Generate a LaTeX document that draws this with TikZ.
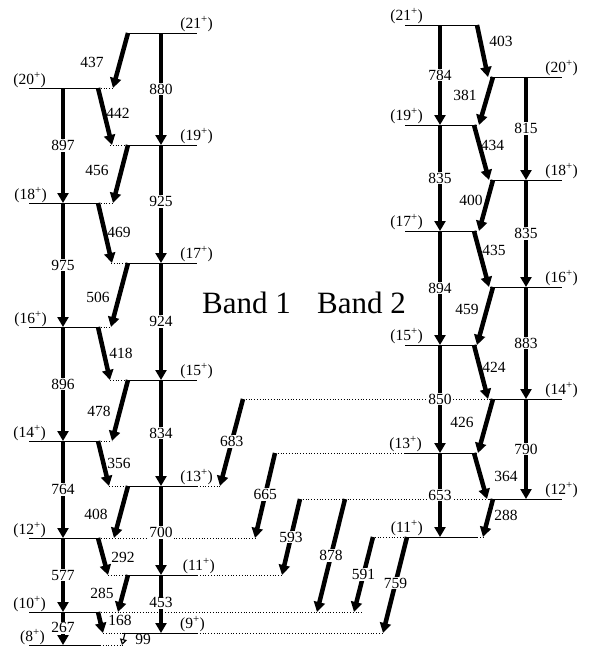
\documentclass[tikz,border=0pt]{standalone}
\usepackage{fontspec}
\setmainfont{Liberation Serif}
\usetikzlibrary{arrows.meta}
\tikzset{
  lvl/.style={line width=0.8pt},
  dotlvl/.style={line width=0.8pt, dotted},
  tr/.style={line width=4.5pt, -{Triangle[width=11pt,length=10pt]}},
  thintr/.style={line width=1.2pt, -{Triangle[open,width=7pt,length=6pt]}},
  lab/.style={font=\fontsize{15.5}{18}\selectfont, inner sep=1pt},
  onlab/.style={lab, fill=white},
  spinlab/.style={font=\fontsize{15.5}{18}\selectfont, inner sep=0pt, anchor=base east},
  bandlab/.style={font=\fontsize{31}{36}\selectfont, inner sep=0pt, anchor=base west},
}
\begin{document}
\begin{tikzpicture}[x=1pt,y=-1pt]
\useasboundingbox (0,0) rectangle (592,646);

% ---------------- Band 1 levels ----------------
\draw[lvl] (128,33) -- (197,33);
\draw[lvl] (29,88) -- (98,88);   \draw[dotlvl] (98,88) -- (113,88);
\draw[dotlvl] (110,145) -- (128,145); \draw[lvl] (128,145) -- (197,145);
\draw[lvl] (29,203) -- (98,203); \draw[dotlvl] (98,203) -- (113,203);
\draw[dotlvl] (111,263) -- (128,263); \draw[lvl] (128,263) -- (197,263);
\draw[lvl] (29,327) -- (98,327); \draw[dotlvl] (98,327) -- (111,327);
\draw[dotlvl] (110,380) -- (128,380); \draw[lvl] (128,380) -- (197,380);
\draw[lvl] (29,441) -- (98,441); \draw[dotlvl] (98,441) -- (112,441);
\draw[dotlvl] (109,486) -- (128,486); \draw[lvl] (128,486) -- (197,486); \draw[dotlvl] (197,486) -- (220,486);
\draw[lvl] (29,538) -- (98,538); \draw[dotlvl] (98,538) -- (255,538);
\draw[dotlvl] (108,575) -- (128,575); \draw[lvl] (128,575) -- (197,575); \draw[dotlvl] (197,575) -- (282,575);
\draw[lvl] (29,612) -- (98,612); \draw[dotlvl] (98,612) -- (362,612);
\draw[dotlvl] (103,633) -- (122,633); \draw[lvl] (122,633) -- (197,633); \draw[dotlvl] (197,633) -- (383,633);
\draw[lvl] (29,645) -- (100,645); \draw[dotlvl] (100,645) -- (124,645);

\node[spinlab] (s21a) at (213,28) {(21\textsuperscript{+})};
\node[spinlab] (s20a) at (46,84) {(20\textsuperscript{+})};
\node[spinlab] (s19a) at (213,140) {(19\textsuperscript{+})};
\node[spinlab] (s18a) at (47,199) {(18\textsuperscript{+})};
\node[spinlab] (s17a) at (213,258) {(17\textsuperscript{+})};
\node[spinlab] (s16a) at (47,323) {(16\textsuperscript{+})};
\node[spinlab] (s15a) at (213,375) {(15\textsuperscript{+})};
\node[spinlab] (s14a) at (46,437) {(14\textsuperscript{+})};
\node[spinlab] (s13a) at (213,481) {(13\textsuperscript{+})};
\node[spinlab] (s12a) at (46,534) {(12\textsuperscript{+})};
\node[spinlab] (s11a) at (215,570) {(11\textsuperscript{+})};
\node[spinlab] (s10a) at (46,608) {(10\textsuperscript{+})};
\node[spinlab] (s9a)  at (205,628) {(9\textsuperscript{+})};
\node[spinlab] (s8a)  at (45,641) {(8\textsuperscript{+})};

% ---------------- Band 2 levels ----------------
\draw[lvl] (405,25) -- (477,25);
\draw[lvl] (490,77) -- (562,77);
\draw[lvl] (405,125) -- (477,125);
\draw[lvl] (490,180) -- (562,180);
\draw[lvl] (405,231) -- (477,231);
\draw[lvl] (490,287) -- (562,287);
\draw[lvl] (405,345) -- (477,345);
\draw[dotlvl] (243,399) -- (490,399); \draw[lvl] (490,399) -- (562,399);
\draw[dotlvl] (275,453) -- (405,453); \draw[lvl] (405,453) -- (477,453);
\draw[dotlvl] (300,499) -- (488,499); \draw[lvl] (488,499) -- (562,499);
\draw[dotlvl] (372,537) -- (405,537); \draw[lvl] (405,537) -- (477,537); \draw[dotlvl] (477,537) -- (483,537);

\node[spinlab] (s21b) at (423,20) {(21\textsuperscript{+})};
\node[spinlab] (s20b) at (578,72) {(20\textsuperscript{+})};
\node[spinlab] (s19b) at (423,120) {(19\textsuperscript{+})};
\node[spinlab] (s18b) at (578,175) {(18\textsuperscript{+})};
\node[spinlab] (s17b) at (423,226) {(17\textsuperscript{+})};
\node[spinlab] (s16b) at (578,282) {(16\textsuperscript{+})};
\node[spinlab] (s15b) at (423,340) {(15\textsuperscript{+})};
\node[spinlab] (s14b) at (578,394) {(14\textsuperscript{+})};
\node[spinlab] (s13b) at (422,448) {(13\textsuperscript{+})};
\node[spinlab] (s12b) at (578,494) {(12\textsuperscript{+})};
\node[spinlab] (s11b) at (423,532) {(11\textsuperscript{+})};

\node[bandlab] (band1) at (202,313) {Band 1};
\node[bandlab] (band2) at (317,313) {Band 2};

% ---------------- column coordinates ----------------
\coordinate (A20) at (63,88);  \coordinate (A18) at (63,203); \coordinate (A16) at (63,327);
\coordinate (A14) at (63,441); \coordinate (A12) at (63,538); \coordinate (A10) at (63,612);
\coordinate (A8) at (63,645);
\coordinate (B21) at (161,33); \coordinate (B19) at (161,145); \coordinate (B17) at (161,263);
\coordinate (B15) at (161,380); \coordinate (B13) at (161,486); \coordinate (B11) at (161,575);
\coordinate (B9) at (161,633);
\coordinate (C21) at (440,25); \coordinate (C19) at (440,125); \coordinate (C17) at (440,231);
\coordinate (C15) at (440,345); \coordinate (C13) at (440,453); \coordinate (C11) at (440,537);
\coordinate (D20) at (526,77); \coordinate (D18) at (526,180); \coordinate (D16) at (526,287);
\coordinate (D14) at (526,399); \coordinate (D12) at (526,499);

% ---------------- stretched (E2) transitions ----------------
\draw[tr] (A20) -- node[onlab] {897} (A18);
\draw[tr] (A18) -- node[onlab] {975} (A16);
\draw[tr] (A16) -- node[onlab] {896} (A14);
\draw[tr] (A14) -- node[onlab] {764} (A12);
\draw[tr] (A12) -- node[onlab] {577} (A10);
\draw[tr] (A10) -- node[onlab, pos=0.48] {267} (A8);
\draw[tr] (B21) -- node[onlab] {880} (B19);
\draw[tr] (B19) -- node[onlab, pos=0.48] {925} (B17);
\draw[tr] (B17) -- node[onlab] {924} (B15);
\draw[tr] (B15) -- node[onlab] {834} (B13);
\draw[tr] (B13) -- node[onlab, pos=0.52] {700} (B11);
\draw[tr] (B11) -- node[onlab, pos=0.48] {453} (B9);
\draw[tr] (C21) -- node[onlab] {784} (C19);
\draw[tr] (C19) -- node[onlab] {835} (C17);
\draw[tr] (C17) -- node[onlab] {894} (C15);
\draw[tr] (C15) -- node[onlab] {850} (C13);
\draw[tr] (C13) -- node[onlab] {653} (C11);
\draw[tr] (D20) -- node[onlab] {815} (D18);
\draw[tr] (D18) -- node[onlab] {835} (D16);
\draw[tr] (D16) -- node[onlab] {883} (D14);
\draw[tr] (D14) -- node[onlab] {790} (D12);

% ---------------- Band 1 in-band diagonal transitions ----------------
\coordinate (p437) at (128,33);  \coordinate (q437) at (113,88);
\coordinate (p442) at (98,88);   \coordinate (q442) at (112,145);
\coordinate (p456) at (128,145); \coordinate (q456) at (113,203);
\coordinate (p469) at (98,203);  \coordinate (q469) at (112,263);
\coordinate (p506) at (128,263); \coordinate (q506) at (111,327);
\coordinate (p418) at (98,327);  \coordinate (q418) at (110,380);
\coordinate (p478) at (128,380); \coordinate (q478) at (112,441);
\coordinate (p356) at (98,441);  \coordinate (q356) at (109,486);
\coordinate (p408) at (128,486); \coordinate (q408) at (114,538);
\coordinate (p292) at (98,538);  \coordinate (q292) at (108,575);
\coordinate (p285) at (128,575); \coordinate (q285) at (118,612);
\coordinate (p168) at (98,612);  \coordinate (q168) at (103,633);
\coordinate (p99) at (125,633);  \coordinate (q99) at (122,645);

\draw[tr] (p437) -- node[lab, xshift=-28.5pt, yshift=-1.5pt] {437} (q437);
\draw[tr] (p442) -- node[lab, xshift=13pt, yshift=3.5pt] {442} (q442);
\draw[tr] (p456) -- node[lab, xshift=-23.5pt, yshift=4pt] {456} (q456);
\draw[tr] (p469) -- node[lab, xshift=14pt, yshift=1pt] {469} (q469);
\draw[tr] (p506) -- node[lab, xshift=-21.5pt, yshift=-2pt] {506} (q506);
\draw[tr] (p418) -- node[lab, xshift=17pt, yshift=0.5pt] {418} (q418);
\draw[tr] (p478) -- node[lab, xshift=-21pt, yshift=-0.5pt] {478} (q478);
\draw[tr] (p356) -- node[lab, xshift=15.5pt, yshift=0.5pt] {356} (q356);
\draw[tr] (p408) -- node[lab, xshift=-25pt, yshift=-2pt] {408} (q408);
\draw[tr] (p292) -- node[lab, xshift=20pt, yshift=-0.5pt] {292} (q292);
\draw[tr] (p285) -- node[lab, xshift=-21pt, yshift=0.5pt] {285} (q285);
\draw[tr] (p168) -- node[lab, xshift=19.5pt, yshift=2.5pt] {168} (q168);
\draw[thintr] (p99) -- (q99);
\node[lab] (l99) at (143,639) {99};

% ---------------- Band 2 in-band diagonal transitions ----------------
\coordinate (p403) at (477,25);  \coordinate (q403) at (488,77);
\coordinate (p381) at (493,77);  \coordinate (q381) at (479,125);
\coordinate (p434) at (474,125); \coordinate (q434) at (489,180);
\coordinate (p400) at (493,180); \coordinate (q400) at (479,231);
\coordinate (p435) at (474,231); \coordinate (q435) at (489,287);
\coordinate (p459) at (493,287); \coordinate (q459) at (477,345);
\coordinate (p424) at (474,345); \coordinate (q424) at (488,399);
\coordinate (p426) at (493,399); \coordinate (q426) at (478,453);
\coordinate (p364) at (474,453); \coordinate (q364) at (487,499);
\coordinate (p288) at (493,499); \coordinate (q288) at (483,537);

\draw[tr] (p403) -- node[lab, xshift=18.5pt, yshift=10pt] {403} (q403);
\draw[tr] (p381) -- node[lab, xshift=-21pt, yshift=6pt] {381} (q381);
\draw[tr] (p434) -- node[lab, xshift=11pt, yshift=7.5pt] {434} (q434);
\draw[tr] (p400) -- node[lab, xshift=-15pt, yshift=5.5pt] {400} (q400);
\draw[tr] (p435) -- node[lab, xshift=12.5pt, yshift=9pt] {435} (q435);
\draw[tr] (p459) -- node[lab, xshift=-18pt, yshift=7pt] {459} (q459);
\draw[tr] (p424) -- node[lab, xshift=13pt, yshift=5pt] {424} (q424);
\draw[tr] (p426) -- node[lab, xshift=-23.5pt, yshift=4pt] {426} (q426);
\draw[tr] (p364) -- node[lab, xshift=25.5pt] {364} (q364);
\draw[tr] (p288) -- node[lab, xshift=18pt, yshift=3pt] {288} (q288);

% ---------------- linking transitions Band 2 -> Band 1 ----------------
\coordinate (p683) at (243,399); \coordinate (q683) at (220,486);
\coordinate (p665) at (275,453); \coordinate (q665) at (255,538);
\coordinate (p593) at (300,499); \coordinate (q593) at (282,575);
\coordinate (p878) at (345,499); \coordinate (q878) at (317,612);
\coordinate (p591) at (373,537); \coordinate (q591) at (354,612);
\coordinate (p759) at (407,537); \coordinate (q759) at (383,633);

\draw[tr] (p683) -- node[onlab, pos=0.49] {683} (q683);
\draw[tr] (p665) -- node[onlab, pos=0.49] {665} (q665);
\draw[tr] (p593) -- node[onlab] {593} (q593);
\draw[tr] (p878) -- node[onlab] {878} (q878);
\draw[tr] (p591) -- node[onlab] {591} (q591);
\draw[tr] (p759) -- node[onlab, pos=0.48] {759} (q759);
\end{tikzpicture}
\end{document}
